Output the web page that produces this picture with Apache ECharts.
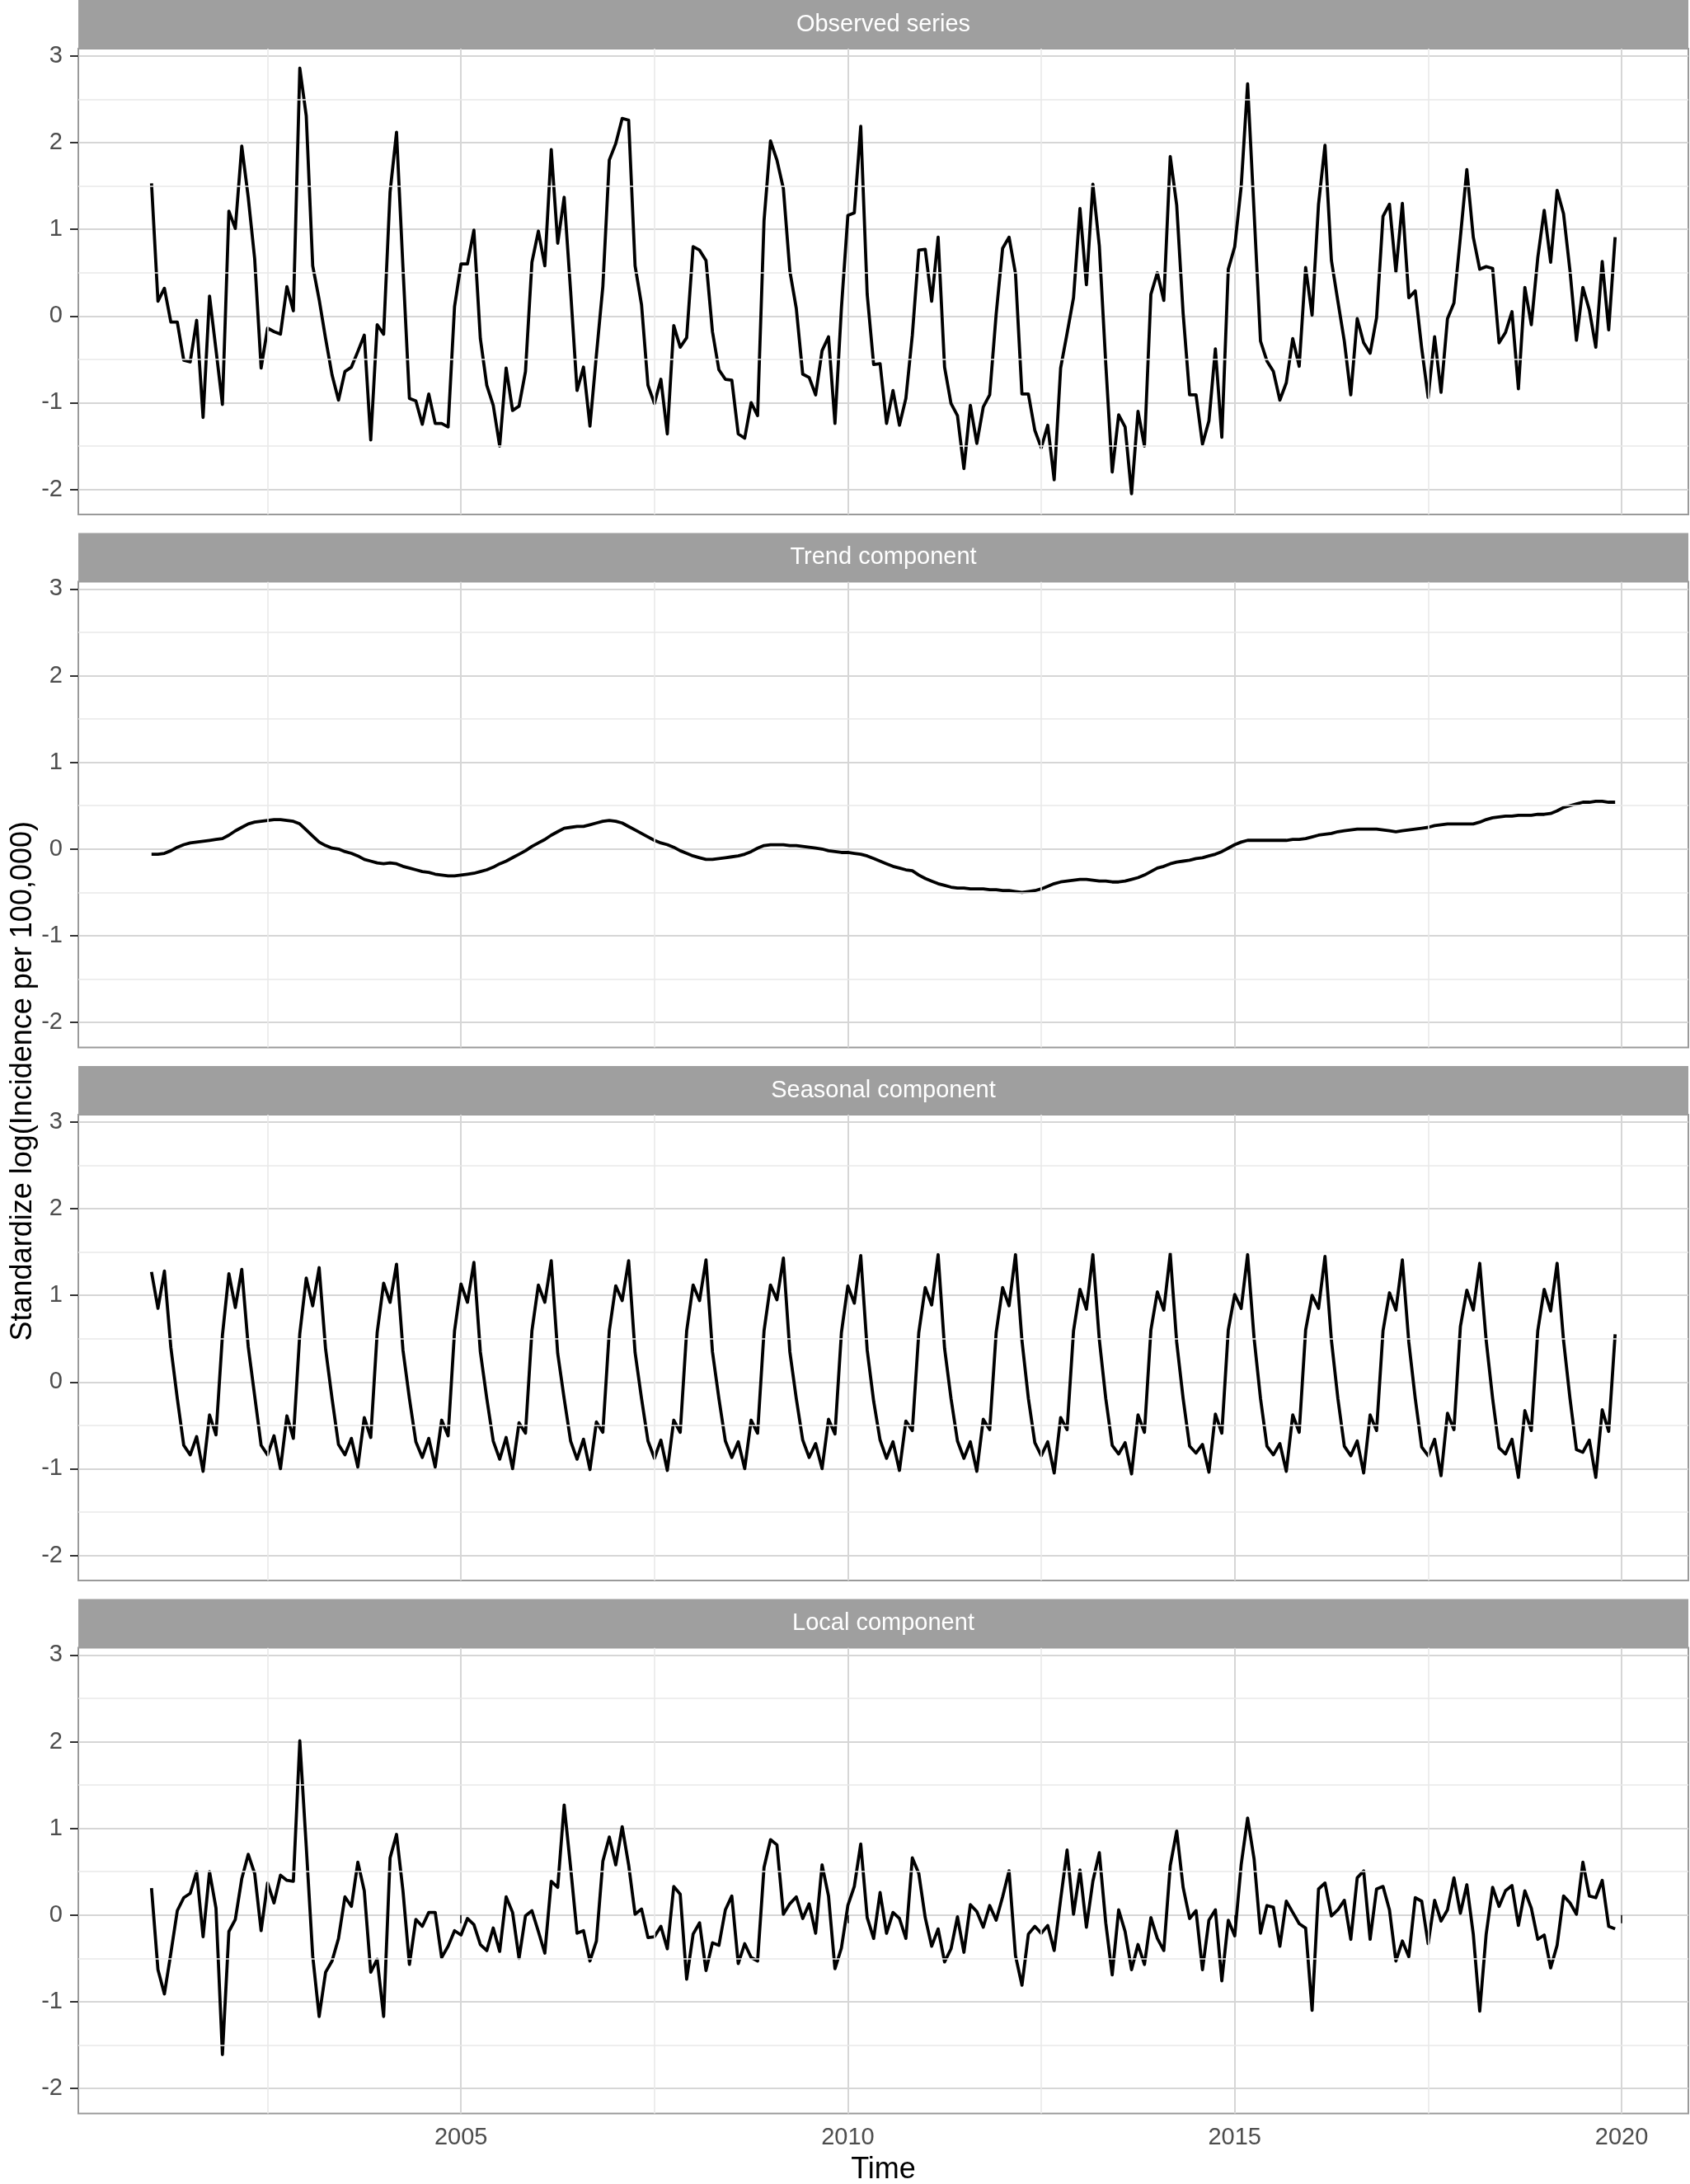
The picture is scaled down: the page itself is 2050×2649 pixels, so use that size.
<!DOCTYPE html>
<html>
<head>
<meta charset="utf-8">
<title>Decomposition</title>
<script src="https://cdn.jsdelivr.net/npm/echarts@6/dist/echarts.min.js"></script>
<style>
  html, body { margin: 0; padding: 0; background: #fff; }
  #chart { width: 2050px; height: 2649px; }
</style>
</head>
<body>
<div id="chart"></div>
<script>
// monthly series, Jan 2001 .. Dec 2019
const startYear = 2001

const panelTitles = ['Observed series', 'Trend component', 'Seasonal component', 'Local component']

const observed = [
  1.53, 0.17, 0.32, -0.07, -0.07, -0.51, -0.53, -0.05, -1.17, 0.23, -0.39, -1.02,
  1.21, 1.01, 1.96, 1.37, 0.66, -0.60, -0.14, -0.18, -0.21, 0.34, 0.06, 2.86,
  2.31, 0.58, 0.19, -0.26, -0.68, -0.97, -0.64, -0.59, -0.41, -0.22, -1.43, -0.10,
  -0.21, 1.43, 2.12, 0.56, -0.95, -0.98, -1.25, -0.90, -1.24, -1.24, -1.28, 0.11,
  0.60, 0.60, 0.99, -0.26, -0.80, -1.03, -1.50, -0.60, -1.09, -1.04, -0.64, 0.62,
  0.98, 0.58, 1.92, 0.84, 1.37, 0.29, -0.86, -0.59, -1.27, -0.45, 0.34, 1.80,
  1.99, 2.28, 2.26, 0.58, 0.13, -0.80, -1.01, -0.73, -1.36, -0.11, -0.36, -0.25,
  0.80, 0.76, 0.64, -0.18, -0.62, -0.73, -0.74, -1.36, -1.41, -1.00, -1.15, 1.10,
  2.02, 1.80, 1.47, 0.52, 0.09, -0.67, -0.71, -0.91, -0.40, -0.24, -1.24, 0.09,
  1.16, 1.19, 2.19, 0.25, -0.56, -0.55, -1.24, -0.86, -1.26, -0.95, -0.22, 0.76,
  0.77, 0.17, 0.91, -0.59, -1.01, -1.15, -1.76, -1.03, -1.47, -1.05, -0.91, 0.02,
  0.78, 0.91, 0.49, -0.90, -0.90, -1.32, -1.52, -1.26, -1.89, -0.60, -0.20, 0.21,
  1.24, 0.36, 1.52, 0.81, -0.55, -1.80, -1.14, -1.28, -2.05, -1.10, -1.50, 0.25,
  0.50, 0.18, 1.84, 1.28, 0.03, -0.91, -0.91, -1.48, -1.21, -0.38, -1.40, 0.54,
  0.80, 1.49, 2.68, 1.20, -0.29, -0.52, -0.64, -0.97, -0.77, -0.26, -0.58, 0.56,
  0.01, 1.29, 1.97, 0.64, 0.17, -0.29, -0.91, -0.03, -0.31, -0.43, -0.02, 1.15,
  1.29, 0.51, 1.30, 0.21, 0.29, -0.37, -0.94, -0.24, -0.88, -0.03, 0.15, 0.91,
  1.69, 0.91, 0.54, 0.57, 0.55, -0.31, -0.19, 0.05, -0.84, 0.33, -0.10, 0.67,
  1.22, 0.62, 1.45, 1.18, 0.52, -0.28, 0.33, 0.07, -0.36, 0.63, -0.16, 0.91
]

const trend = [
  -0.06, -0.06, -0.05, -0.02, 0.02, 0.05, 0.07, 0.08, 0.09, 0.10, 0.11, 0.12,
  0.16, 0.21, 0.25, 0.29, 0.31, 0.32, 0.33, 0.34, 0.34, 0.33, 0.32, 0.29,
  0.22, 0.15, 0.08, 0.04, 0.01, 0.00, -0.03, -0.05, -0.08, -0.12, -0.14, -0.16,
  -0.17, -0.16, -0.17, -0.20, -0.22, -0.24, -0.26, -0.27, -0.29, -0.30, -0.31, -0.31,
  -0.30, -0.29, -0.28, -0.26, -0.24, -0.21, -0.17, -0.14, -0.10, -0.06, -0.02, 0.03,
  0.07, 0.11, 0.16, 0.20, 0.24, 0.25, 0.26, 0.26, 0.28, 0.30, 0.32, 0.33,
  0.32, 0.30, 0.26, 0.22, 0.18, 0.14, 0.10, 0.07, 0.05, 0.02, -0.02, -0.05,
  -0.08, -0.10, -0.12, -0.12, -0.11, -0.10, -0.09, -0.08, -0.06, -0.03, 0.01, 0.04,
  0.05, 0.05, 0.05, 0.04, 0.04, 0.03, 0.02, 0.01, 0.00, -0.02, -0.03, -0.04,
  -0.04, -0.05, -0.06, -0.08, -0.11, -0.14, -0.17, -0.20, -0.22, -0.24, -0.25, -0.30,
  -0.34, -0.37, -0.40, -0.42, -0.44, -0.45, -0.45, -0.46, -0.46, -0.46, -0.47, -0.47,
  -0.48, -0.48, -0.49, -0.50, -0.49, -0.48, -0.46, -0.43, -0.40, -0.38, -0.37, -0.36,
  -0.35, -0.35, -0.36, -0.37, -0.37, -0.38, -0.38, -0.37, -0.35, -0.33, -0.30, -0.26,
  -0.22, -0.20, -0.17, -0.15, -0.14, -0.13, -0.11, -0.10, -0.08, -0.06, -0.03, 0.01,
  0.05, 0.08, 0.10, 0.10, 0.10, 0.10, 0.10, 0.10, 0.10, 0.11, 0.11, 0.12,
  0.14, 0.16, 0.17, 0.18, 0.20, 0.21, 0.22, 0.23, 0.23, 0.23, 0.23, 0.22,
  0.21, 0.20, 0.21, 0.22, 0.23, 0.24, 0.25, 0.27, 0.28, 0.29, 0.29, 0.29,
  0.29, 0.29, 0.31, 0.34, 0.36, 0.37, 0.38, 0.38, 0.39, 0.39, 0.39, 0.40,
  0.40, 0.41, 0.44, 0.48, 0.50, 0.52, 0.54, 0.54, 0.55, 0.55, 0.54, 0.54
]

const seasonal = [
  1.27, 0.85, 1.28, 0.40, -0.19, -0.73, -0.84, -0.63, -1.03, -0.38, -0.61, 0.54,
  1.25, 0.86, 1.30, 0.41, -0.16, -0.73, -0.84, -0.62, -1.00, -0.39, -0.65, 0.56,
  1.20, 0.88, 1.32, 0.38, -0.19, -0.72, -0.84, -0.65, -0.98, -0.41, -0.64, 0.57,
  1.14, 0.92, 1.36, 0.37, -0.19, -0.69, -0.87, -0.65, -0.98, -0.44, -0.62, 0.59,
  1.13, 0.92, 1.38, 0.35, -0.19, -0.68, -0.89, -0.64, -1.00, -0.47, -0.59, 0.59,
  1.12, 0.92, 1.40, 0.33, -0.19, -0.68, -0.89, -0.66, -1.01, -0.46, -0.58, 0.59,
  1.11, 0.94, 1.40, 0.34, -0.19, -0.68, -0.88, -0.67, -1.02, -0.44, -0.58, 0.59,
  1.12, 0.94, 1.41, 0.35, -0.19, -0.68, -0.87, -0.69, -1.00, -0.44, -0.59, 0.59,
  1.12, 0.95, 1.43, 0.35, -0.19, -0.67, -0.87, -0.71, -1.00, -0.43, -0.60, 0.57,
  1.11, 0.91, 1.46, 0.37, -0.22, -0.67, -0.88, -0.69, -1.02, -0.45, -0.56, 0.57,
  1.09, 0.89, 1.47, 0.39, -0.19, -0.68, -0.88, -0.69, -1.03, -0.43, -0.55, 0.57,
  1.09, 0.88, 1.47, 0.48, -0.19, -0.70, -0.85, -0.69, -1.05, -0.41, -0.55, 0.59,
  1.07, 0.84, 1.47, 0.49, -0.19, -0.73, -0.83, -0.70, -1.06, -0.38, -0.58, 0.60,
  1.04, 0.83, 1.48, 0.46, -0.19, -0.74, -0.82, -0.72, -1.04, -0.37, -0.59, 0.60,
  1.01, 0.85, 1.47, 0.51, -0.19, -0.74, -0.84, -0.71, -1.03, -0.38, -0.58, 0.60,
  1.00, 0.85, 1.45, 0.48, -0.19, -0.74, -0.85, -0.68, -1.05, -0.38, -0.56, 0.59,
  1.03, 0.83, 1.41, 0.46, -0.19, -0.75, -0.85, -0.66, -1.08, -0.36, -0.55, 0.64,
  1.06, 0.83, 1.37, 0.48, -0.19, -0.76, -0.83, -0.66, -1.10, -0.33, -0.56, 0.59,
  1.07, 0.82, 1.37, 0.48, -0.19, -0.78, -0.81, -0.67, -1.10, -0.32, -0.57, 0.55
]

const local = [
  0.31, -0.63, -0.91, -0.44, 0.05, 0.20, 0.25, 0.50, -0.25, 0.50, 0.08, -1.61,
  -0.19, -0.05, 0.42, 0.70, 0.48, -0.18, 0.37, 0.14, 0.46, 0.40, 0.39, 2.01,
  0.79, -0.47, -1.17, -0.66, -0.53, -0.27, 0.21, 0.10, 0.61, 0.28, -0.66, -0.51,
  -1.17, 0.66, 0.93, 0.28, -0.57, -0.05, -0.13, 0.03, 0.03, -0.49, -0.36, -0.18,
  -0.23, -0.04, -0.11, -0.34, -0.41, -0.15, -0.42, 0.21, 0.03, -0.50, -0.01, 0.05,
  -0.19, -0.44, 0.39, 0.32, 1.27, 0.55, -0.21, -0.18, -0.53, -0.30, 0.62, 0.90,
  0.58, 1.02, 0.58, 0.01, 0.07, -0.26, -0.25, -0.13, -0.39, 0.33, 0.24, -0.74,
  -0.22, -0.09, -0.64, -0.32, -0.35, 0.06, 0.22, -0.56, -0.33, -0.49, -0.53, 0.55,
  0.87, 0.81, 0.01, 0.13, 0.21, -0.04, 0.13, -0.21, 0.58, 0.22, -0.62, -0.38,
  0.11, 0.33, 0.82, -0.03, -0.27, 0.26, -0.21, 0.03, -0.04, -0.27, 0.66, 0.48,
  -0.03, -0.36, -0.16, -0.54, -0.39, -0.02, -0.43, 0.12, 0.04, -0.14, 0.11, -0.06,
  0.21, 0.51, -0.47, -0.81, -0.22, -0.13, -0.21, -0.12, -0.41, 0.18, 0.75, 0.01,
  0.52, -0.14, 0.39, 0.72, -0.09, -0.69, 0.06, -0.19, -0.63, -0.34, -0.57, -0.03,
  -0.27, -0.41, 0.57, 0.97, 0.32, -0.04, 0.05, -0.63, -0.06, 0.06, -0.76, -0.06,
  -0.24, 0.58, 1.12, 0.65, -0.21, 0.11, 0.09, -0.36, 0.16, 0.03, -0.10, -0.15,
  -1.10, 0.30, 0.37, -0.01, 0.06, 0.17, -0.28, 0.43, 0.51, -0.28, 0.30, 0.33,
  0.06, -0.53, -0.30, -0.48, 0.20, 0.16, -0.33, 0.17, -0.07, 0.06, 0.43, 0.02,
  0.35, -0.22, -1.11, -0.22, 0.32, 0.10, 0.28, 0.34, -0.12, 0.28, 0.08, -0.28,
  -0.23, -0.61, -0.35, 0.22, 0.14, 0.01, 0.61, 0.22, 0.20, 0.40, -0.13, -0.16
]

const panelSeries = [observed, trend, seasonal, local]

// axis ticks
const xTicks = [2005, 2010, 2015, 2020]
const xMinorTicks = [2002.5, 2007.5, 2012.5, 2017.5]
const yTicks = [-2, -1, 0, 1, 2, 3]
const yMinorTicks = [-1.5, -0.5, 0.5, 1.5, 2.5]
const xRange = [2000.054, 2020.863]
const yRange = [-2.29, 3.085]

// layout (px)
const plotLeft = 95
const plotWidth = 1953
const firstTop = 59
const panelPitch = 646.5
const panelHeight = 565
const stripHeight = 59

const FONT = '"Liberation Sans", Arial, Helvetica, sans-serif'
const MAJOR = '#d6d6d6'
const MINOR = '#e9e9e9'

const toPoints = values => values.map((v, i) => [startYear + i / 12, v])

const grids = []
const xAxes = []
const yAxes = []
const series = []
const graphics = []

panelSeries.forEach((values, k) => {
  const top = firstTop + k * panelPitch
  const isBottom = k === panelSeries.length - 1

  grids.push({
    left: plotLeft, top, width: plotWidth, height: panelHeight,
    show: true, borderColor: '#9a9a9a', borderWidth: 2, backgroundColor: '#fff'
  })

  xAxes.push({
    type: 'value', gridIndex: k, min: xRange[0], max: xRange[1],
    axisLine: { show: false },
    axisTick: { show: isBottom, length: 10, customValues: xTicks, lineStyle: { color: '#333', width: 2 } },
    axisLabel: {
      show: isBottom, customValues: xTicks, margin: 15,
      fontSize: 29, fontFamily: FONT, color: '#4d4d4d',
      formatter: v => String(v)
    },
    splitLine: { show: true, lineStyle: { color: MAJOR, width: 2 } }
  })

  yAxes.push({
    type: 'value', gridIndex: k, min: yRange[0], max: yRange[1],
    axisLine: { show: false },
    axisTick: { show: true, length: 10, customValues: yTicks, lineStyle: { color: '#333', width: 2 } },
    axisLabel: {
      customValues: yTicks, margin: 19,
      fontSize: 29, fontFamily: FONT, color: '#4d4d4d',
      formatter: v => String(v)
    },
    splitLine: { show: true, lineStyle: { color: MAJOR, width: 2 } }
  })

  // minor grid lines
  series.push({
    type: 'line', xAxisIndex: k, yAxisIndex: k, data: [], z: 1, silent: true,
    markLine: {
      silent: true, symbol: 'none', animation: false,
      label: { show: false },
      lineStyle: { color: MINOR, width: 1.6, type: 'solid' },
      data: [
        ...yMinorTicks.map(v => ({ yAxis: v })),
        ...xMinorTicks.map(v => ({ xAxis: v }))
      ]
    }
  })

  series.push({
    type: 'line', name: panelTitles[k], xAxisIndex: k, yAxisIndex: k,
    data: toPoints(values), showSymbol: false, z: 3,
    lineStyle: { color: '#000', width: 3.8, join: 'round' },
    itemStyle: { color: '#000' }
  })

  // facet strip
  graphics.push({
    type: 'rect', z: 10,
    shape: { x: plotLeft, y: top - stripHeight, width: plotWidth, height: stripHeight },
    style: { fill: '#9f9f9f' }
  })
  graphics.push({
    type: 'text', z: 11,
    x: plotLeft + plotWidth / 2, y: top - stripHeight / 2,
    style: {
      text: panelTitles[k], fill: '#fff', font: '29px ' + FONT,
      align: 'center', verticalAlign: 'middle'
    }
  })
})

const lastBottom = firstTop + 3 * panelPitch + panelHeight

graphics.push({
  type: 'text', x: plotLeft + plotWidth / 2, y: lastBottom + 69,
  style: { text: 'Time', fill: '#000', font: '36px ' + FONT, align: 'center', verticalAlign: 'middle' }
})
graphics.push({
  type: 'text', x: 28, y: (firstTop + lastBottom) / 2, rotation: Math.PI / 2,
  style: {
    text: 'Standardize log(Incidence per 100,000)', fill: '#000', font: '36px ' + FONT,
    align: 'center', verticalAlign: 'middle'
  }
})

const chart = echarts.init(document.getElementById('chart'), null, { renderer: 'canvas' })
chart.setOption({
  backgroundColor: '#fff',
  animation: false,
  grid: grids,
  xAxis: xAxes,
  yAxis: yAxes,
  series,
  graphic: graphics
})
</script>
</body>
</html>
